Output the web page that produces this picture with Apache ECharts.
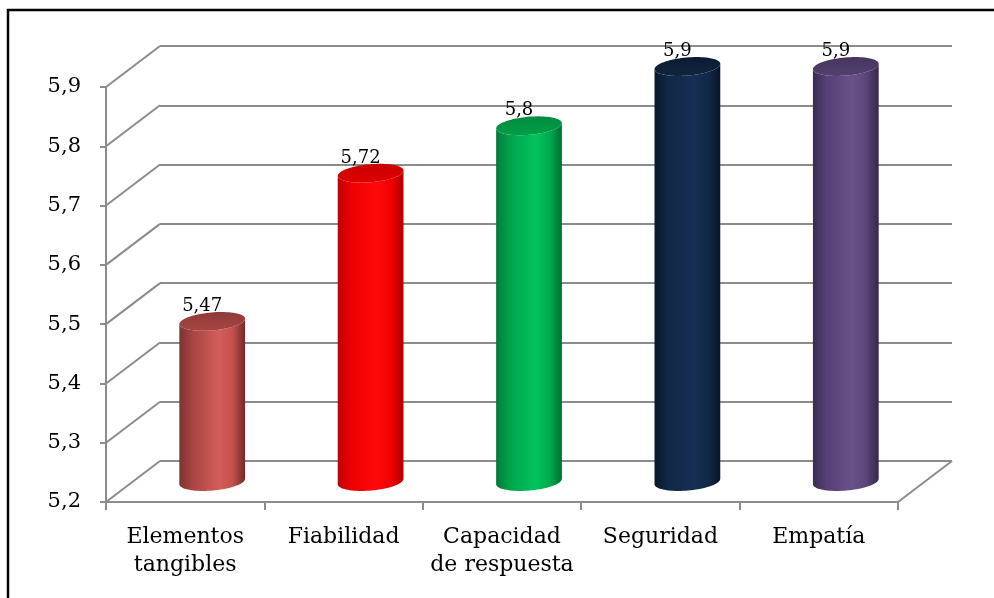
<!DOCTYPE html>
<html>
<head>
<meta charset="utf-8">
<title>Dimensiones</title>
<script src="https://cdn.jsdelivr.net/npm/echarts/dist/echarts.min.js"></script>
<style>
  html, body { margin: 0; padding: 0; background: #ffffff; }
  #chart { width: 994px; height: 598px; }
</style>
</head>
<body>
<div id="chart"></div>
<script>
// Data
const categories = ['Elementos\ntangibles', 'Fiabilidad', 'Capacidad\nde respuesta', 'Seguridad', 'Empatía'];
const values = [5.47, 5.72, 5.8, 5.9, 5.9];
const yTicks = [5.2, 5.3, 5.4, 5.5, 5.6, 5.7, 5.8, 5.9];
const Y_MIN = 5.2;
const Y_MAX = 5.9;
const Y_STEP = 0.1;

// Pseudo-3D geometry (pixels)
const DX = 54;          // depth offset to the right
const DY = 41;          // depth offset upwards
const BAR_RX = 33;      // cylinder radius
const BAR_RY = 9;       // ellipse half-height
const TILT = -5 * Math.PI / 180;

const FONT = 'DejaVu Serif';
const GRID_COLOR = '#8c8c8c';

// Cylinder colours: side gradient stops and top face
const palette = [
  { side: ['#7e3331', '#a84441', '#d35d5a', '#c2504d', '#6e2b29'], top: ['#8f3b39', '#a64542'] },
  { side: ['#c40000', '#ee0000', '#ff0a0a', '#f00000', '#a80000'], top: ['#c80000', '#e00000'] },
  { side: ['#007c38', '#00a34c', '#00c45c', '#00a94f', '#006b30'], top: ['#008a3e', '#00a048'] },
  { side: ['#08172b', '#112845', '#172f55', '#112846', '#07142a'], top: ['#0b1c33', '#10243f'] },
  { side: ['#3a2c4f', '#553f76', '#6a5289', '#5a4478', '#33274a'], top: ['#45355e', '#52406e'] }
];

function ellipsePoints(cx, cy, t0, t1, n) {
  const pts = [];
  const c = Math.cos(TILT), s = Math.sin(TILT);
  for (let k = 0; k <= n; k++) {
    const t = t0 + (t1 - t0) * k / n;
    const ex = BAR_RX * Math.cos(t), ey = BAR_RY * Math.sin(t);
    pts.push([cx + ex * c - ey * s, cy + ex * s + ey * c]);
  }
  return pts;
}

function fmt(v) {
  return String(+v.toFixed(2)).replace('.', ',');
}

const chart = echarts.init(document.getElementById('chart'), null, { renderer: 'canvas' });

const option = {
  backgroundColor: '#ffffff',
  animation: false,
  graphic: [{
    type: 'rect',
    shape: { x: 8, y: 10, width: 1100, height: 700 },
    style: { fill: 'none', stroke: '#000000', lineWidth: 2.5 },
    z: 100
  }],
  grid: [
    { left: 106, right: 96, top: 87, bottom: 96 },
    { left: 106 + DX, right: 96 - DX, top: 87 - DY, bottom: 96 + DY }
  ],
  xAxis: [
    {
      type: 'category', gridIndex: 0, data: categories,
      axisLine: { show: true, lineStyle: { color: GRID_COLOR, width: 2 } },
      axisTick: { show: true, length: 8, alignWithLabel: false, lineStyle: { color: GRID_COLOR, width: 2 } },
      axisLabel: { color: '#000', fontFamily: FONT, fontSize: 22, lineHeight: 28, margin: 21, interval: 0 }
    },
    { type: 'category', gridIndex: 1, data: categories, show: false }
  ],
  yAxis: [
    {
      type: 'value', gridIndex: 0, min: Y_MIN, max: Y_MAX, interval: Y_STEP,
      axisLine: { show: true, lineStyle: { color: GRID_COLOR, width: 2 } },
      axisTick: { show: true, length: 6, lineStyle: { color: GRID_COLOR, width: 2 } },
      splitLine: { show: false },
      axisLabel: { color: '#000', fontFamily: FONT, fontSize: 21, margin: 25, formatter: v => v.toFixed(1).replace('.', ',') }
    },
    {
      type: 'value', gridIndex: 1, min: Y_MIN, max: Y_MAX, interval: Y_STEP,
      axisLine: { show: false }, axisTick: { show: false }, axisLabel: { show: false },
      splitLine: { show: true, lineStyle: { color: GRID_COLOR, width: 2 } }
    }
  ],
  series: [
    {
      // side-wall and floor diagonals
      type: 'custom', xAxisIndex: 0, yAxisIndex: 0, z: 1, silent: true,
      data: yTicks.map(v => [0, v, 0]).concat([[0, Y_MIN, 1]]),
      renderItem: function (params, api) {
        const cs = params.coordSys;
        const y = api.coord([0, api.value(1)])[1];
        const x = cs.x + api.value(2) * cs.width;
        return {
          type: 'line',
          shape: { x1: x, y1: y, x2: x + DX, y2: y - DY },
          style: { stroke: GRID_COLOR, lineWidth: 2 }
        };
      }
    },
    {
      // cylinders
      type: 'custom', xAxisIndex: 0, yAxisIndex: 0, z: 5,
      data: values.map((v, i) => [i, v]),
      renderItem: function (params, api) {
        const i = params.dataIndex;
        const v = api.value(1);
        const topPt = api.coord([i, v]);
        const basePt = api.coord([i, Y_MIN]);
        const cx = topPt[0] + DX / 2;
        const yt = topPt[1] - DY / 2;
        const yb = basePt[1] - DY / 2;
        const pal = palette[i];
        const bottomArc = ellipsePoints(cx, yb, Math.PI, 0, 40);
        const topArc = ellipsePoints(cx, yt, 0, Math.PI, 40);
        const body = bottomArc.concat(topArc);
        const topFace = ellipsePoints(cx, yt, 0, 2 * Math.PI, 80);
        return {
          type: 'group',
          children: [
            {
              type: 'polygon',
              shape: { points: body },
              style: {
                fill: new echarts.graphic.LinearGradient(0, 0, 1, 0, [
                  { offset: 0, color: pal.side[0] },
                  { offset: 0.2, color: pal.side[1] },
                  { offset: 0.6, color: pal.side[2] },
                  { offset: 0.82, color: pal.side[3] },
                  { offset: 1, color: pal.side[4] }
                ])
              }
            },
            {
              type: 'polygon',
              shape: { points: topFace },
              style: {
                fill: new echarts.graphic.LinearGradient(0, 0, 0, 1, [
                  { offset: 0, color: pal.top[0] },
                  { offset: 1, color: pal.top[1] }
                ])
              }
            },
            {
              type: 'text',
              x: cx - 10,
              y: yt - 15,
              style: {
                text: fmt(v),
                align: 'center', verticalAlign: 'middle',
                fill: '#000', fontSize: 18, fontFamily: FONT
              },
              z2: 10
            }
          ]
        };
      }
    }
  ]
};

chart.setOption(option);
</script>
</body>
</html>
